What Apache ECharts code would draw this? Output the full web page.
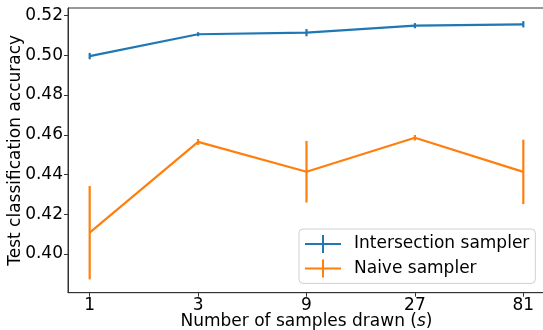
<!DOCTYPE html>
<html><head><meta charset="utf-8">
<script src="https://cdn.jsdelivr.net/npm/echarts@6/dist/echarts.min.js"></script>
<style>html,body{margin:0;padding:0;background:#fff}#c{width:543px;height:330px}</style>
</head><body><div id="c"></div>
<script>
// Data
const samples = [1, 3, 9, 27, 81];
const intersectionMean = [0.4996, 0.5106, 0.5114, 0.5149, 0.5156];
const intersectionErr  = [0.0016, 0.0010, 0.0018, 0.0013, 0.0016];
const naiveMean = [0.4107, 0.4564, 0.4414, 0.4585, 0.4413];
const naiveErr  = [0.0235, 0.0015, 0.0155, 0.0014, 0.0162];
const seriesNames = ['Intersection sampler', 'Naive sampler'];
const colors = ['#1f77b4', '#ff7f0e'];

const FONT = 'DejaVu Sans';
const chart = echarts.init(document.getElementById('c'), null, {renderer: 'canvas'});

function pairs(m) { return samples.map((s, i) => [s, m[i]]); }
function errData(m, e) { return samples.map((s, i) => [s, m[i] - e[i], m[i] + e[i]]); }
function errSeries(name, color, m, e) {
  return {
    type: 'custom', name: name, data: errData(m, e), silent: true, z: 3,
    encode: {x: 0, y: [1, 2]},
    renderItem: function (params, api) {
      const lo = api.coord([api.value(0), api.value(1)]);
      const hi = api.coord([api.value(0), api.value(2)]);
      return {type: 'line', shape: {x1: lo[0], y1: lo[1], x2: hi[0], y2: hi[1]},
              style: {stroke: color, lineWidth: 2.2}};
    }
  };
}

const icon = 'path://M0,8h36v2h-36z M17,0h2v18h-2z';

chart.setOption({
  animation: false,
  textStyle: {fontFamily: FONT},
  grid: {left: 68, top: 8, width: 477, height: 284.7, show: true, borderColor: '#333', borderWidth: 1,
         containLabel: false, outerBoundsMode: 'none'},
  legend: {
    orient: 'vertical', left: 299, top: 229, padding: [6, 6, 6, 6], itemGap: 6.4,
    itemWidth: 36, itemHeight: 18, backgroundColor: '#fff',
    borderColor: '#d0d0d0', borderWidth: 1, borderRadius: 4,
    data: [{name: seriesNames[0], icon: icon}, {name: seriesNames[1], icon: icon}],
    textStyle: {fontFamily: FONT, fontSize: 17, color: '#000', padding: [0, 0, 0, 8]}
  },
  xAxis: {
    type: 'log', logBase: 3, min: Math.pow(3, -0.2), max: Math.pow(3, 4.2),
    name: 'Number of samples drawn ({i|s})', nameLocation: 'middle', nameGap: 20, nameMoveOverlap: false,
    nameTextStyle: {fontFamily: FONT, fontSize: 17, color: '#000', rich: {i: {fontFamily: FONT, fontSize: 17, fontStyle: 'italic', color: '#000'}}},
    axisLine: {show: true, lineStyle: {color: '#333', width: 1}},
    axisTick: {show: true, length: 4, lineStyle: {color: '#333'}},
    axisLabel: {fontFamily: FONT, fontSize: 17, color: '#000', margin: 4, showMinLabel: false, showMaxLabel: false,
      formatter: function (v) { return String(Math.round(v)); }},
    splitLine: {show: false}, minorTick: {show: false}
  },
  yAxis: {
    type: 'value', min: 0.3805, max: 0.5238, splitNumber: 7,
    name: 'Test classification accuracy', nameLocation: 'middle', nameGap: 44, nameMoveOverlap: false,
    nameTextStyle: {fontFamily: FONT, fontSize: 17, color: '#000'},
    axisLine: {show: true, lineStyle: {color: '#333', width: 1}},
    axisTick: {show: true, length: 4, lineStyle: {color: '#333'}},
    axisLabel: {fontFamily: FONT, fontSize: 17, color: '#000', margin: 5, showMinLabel: false, showMaxLabel: false,
      formatter: function (v) { return v.toFixed(2); }},
    splitLine: {show: false}
  },
  series: [
    {type: 'line', name: seriesNames[0], data: pairs(intersectionMean), color: colors[0], symbol: 'none',
     lineStyle: {width: 2.2, color: colors[0]}, z: 2},
    {type: 'line', name: seriesNames[1], data: pairs(naiveMean), color: colors[1], symbol: 'none',
     lineStyle: {width: 2.2, color: colors[1]}, z: 2},
    errSeries('err-intersection', colors[0], intersectionMean, intersectionErr),
    errSeries('err-naive', colors[1], naiveMean, naiveErr)
  ]
});
</script></body></html>
